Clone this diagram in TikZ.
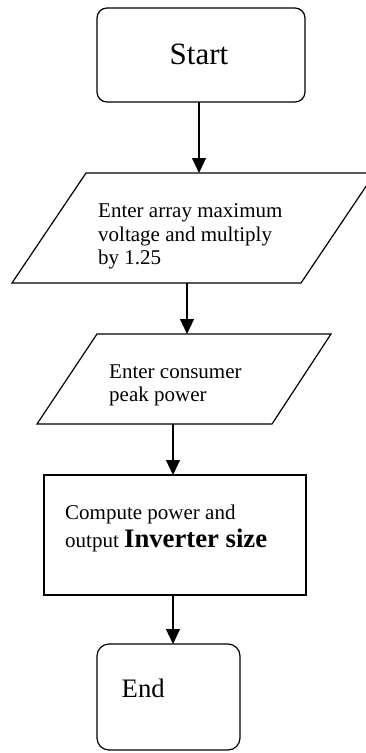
\documentclass[tikz,border=0pt]{standalone}
\usepackage{fontspec}
\setmainfont{Liberation Serif}
\usetikzlibrary{arrows.meta}
\tikzset{
  shp/.style={draw=black, line width=1.2pt},
  arr/.style={draw=black, line width=1.2pt, -{Triangle[width=14pt,length=15pt]}},
  txt/.style={anchor=base west, inner sep=0pt, font=\fontsize{21}{23.5}\selectfont, align=left},
}
\begin{document}
\begin{tikzpicture}[x=1pt,y=-1pt]
\useasboundingbox (0,0) rectangle (366,753);
\begin{scope}
\clip (0,0) rectangle (366,753);
% Start
\draw[shp, rounded corners=10pt] (97,8) rectangle (305,102);
\coordinate (startb) at (199,102);
\node[anchor=base, inner sep=0pt, font=\fontsize{31}{34}\selectfont] (starttxt) at (199,64.5) {Start};
% parallelogram 1
\draw[shp] (86,173) -- (375,173) -- (301,283) -- (12,283) -- cycle;
\coordinate (p1t) at (199,173);
\coordinate (p1b) at (187,283);
\node[txt] (p1txt) at (98,264.5) {Enter array maximum\\voltage and multiply\\by 1.25};
% parallelogram 2
\draw[shp] (97,334) -- (331,334) -- (272,424) -- (37,424) -- cycle;
\coordinate (p2t) at (187,334);
\coordinate (p2b) at (173,424);
\node[txt] (p2txt) at (109,401.5) {Enter consumer\\peak power};
% process
\draw[shp] (44,475) rectangle (306,595);
\coordinate (prt) at (173,475);
\coordinate (prb) at (173,595);
\node[txt] (prtxt1) at (65,519) {Compute power and};
\node[txt] (prtxt2) at (65,547.7) {output \fontsize{26.7}{29}\selectfont\bfseries Inverter size};
% End
\draw[shp, rounded corners=12pt] (97,644) rectangle (240,750);
\coordinate (endt) at (173,644);
\node[anchor=base west, inner sep=0pt, font=\fontsize{26.7}{29}\selectfont] (endtxt) at (121.5,697) {End};
% arrows
\draw[arr] (startb) -- (p1t);
\draw[arr] (p1b) -- (p2t);
\draw[arr] (p2b) -- (prt);
\draw[arr] (prb) -- (endt);
\end{scope}
\end{tikzpicture}
\end{document}
